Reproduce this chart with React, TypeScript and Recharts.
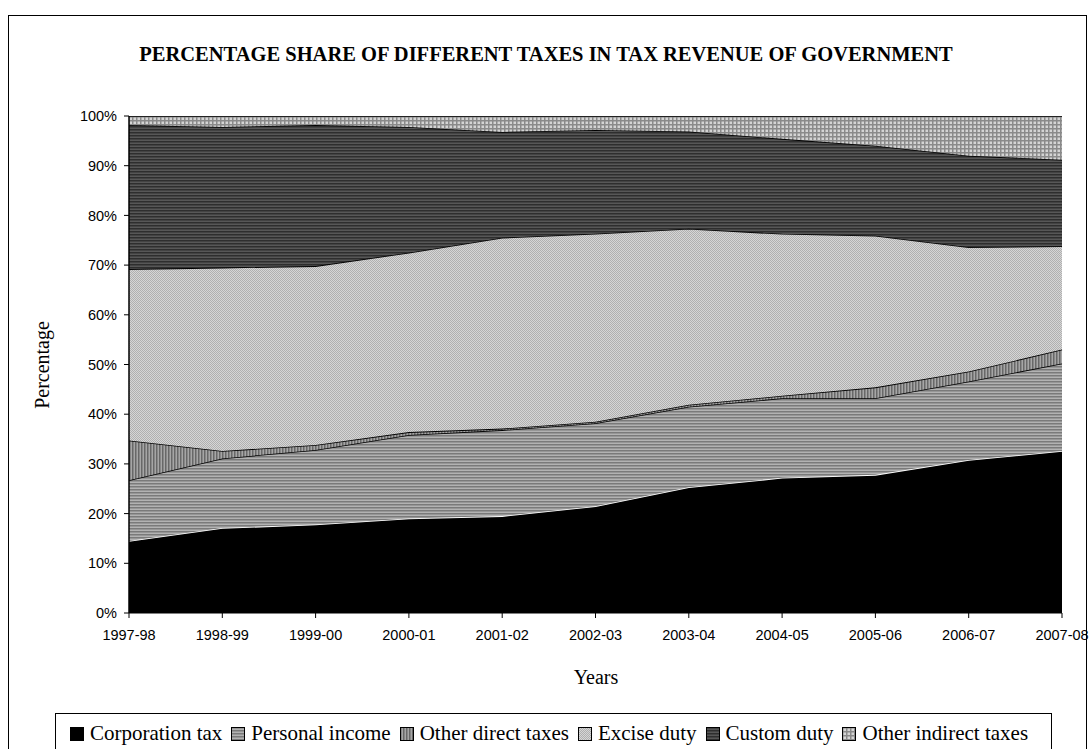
import React from 'react';
import { AreaChart, Area, XAxis, YAxis } from 'recharts';

// tax shares by year, percent of total tax revenue
const years = ['1997-98', '1998-99', '1999-00', '2000-01', '2001-02', '2002-03', '2003-04', '2004-05', '2005-06', '2006-07', '2007-08'];
const corporationTax = [14.5, 17.1, 17.8, 19.0, 19.5, 21.5, 25.3, 27.2, 27.8, 30.8, 32.6];
const personalIncome = [12.2, 14.0, 15.0, 16.8, 17.3, 16.7, 16.2, 16.0, 15.4, 15.8, 17.6];
const otherDirect = [8.0, 1.5, 1.0, 0.6, 0.3, 0.3, 0.4, 0.5, 2.2, 2.0, 2.8];
const exciseDuty = [34.5, 36.9, 36.0, 36.1, 38.4, 37.8, 35.4, 32.6, 30.5, 25.0, 20.8];
const customDuty = [29.0, 28.3, 28.4, 25.3, 21.3, 20.9, 19.6, 19.1, 18.1, 18.4, 17.4];
const otherIndirect = [1.8, 2.2, 1.8, 2.2, 3.2, 2.8, 3.1, 4.6, 6.0, 8.0, 8.8];
const yTicks = [0, 10, 20, 30, 40, 50, 60, 70, 80, 90, 100];

const data = years.map((year, i) => ({
  year,
  corporation: corporationTax[i],
  personal: personalIncome[i],
  otherDirect: otherDirect[i],
  excise: exciseDuty[i],
  custom: customDuty[i],
  otherIndirect: otherIndirect[i],
}));

const series = [
  { key: 'corporation', name: 'Corporation tax', fill: '#000', stroke: '#fff' },
  { key: 'personal', name: 'Personal income', fill: 'url(#patPersonal)', stroke: '#000' },
  { key: 'otherDirect', name: 'Other direct taxes', fill: 'url(#patOtherDirect)', stroke: '#000' },
  { key: 'excise', name: 'Excise duty', fill: 'url(#patExcise)', stroke: '#000' },
  { key: 'custom', name: 'Custom duty', fill: 'url(#patCustom)', stroke: '#000' },
  { key: 'otherIndirect', name: 'Other indirect taxes', fill: 'url(#patOtherIndirect)', stroke: '#000' },
];

const serif = '"Liberation Serif", "Times New Roman", serif';
const sans = '"Liberation Sans", Arial, sans-serif';

const Patterns = () => (
  <defs>
    <pattern id="patPersonal" width="4" height="3" patternUnits="userSpaceOnUse">
      <rect width="4" height="3" fill="#b2b2b2" />
      <rect width="4" height="1.5" fill="#7a7a7a" />
    </pattern>
    <pattern id="patOtherDirect" width="3" height="4" patternUnits="userSpaceOnUse">
      <rect width="3" height="4" fill="#a6a6a6" />
      <rect width="1.5" height="4" fill="#686868" />
    </pattern>
    <pattern id="patExcise" width="2" height="2" patternUnits="userSpaceOnUse">
      <rect width="2" height="2" fill="#d6d6d6" />
      <rect width="1" height="1" fill="#b0b0b0" />
      <rect x="1" y="1" width="1" height="1" fill="#b0b0b0" />
    </pattern>
    <pattern id="patCustom" width="4" height="3" patternUnits="userSpaceOnUse">
      <rect width="4" height="3" fill="#575757" />
      <rect width="4" height="1.5" fill="#2e2e2e" />
    </pattern>
    <pattern id="patOtherIndirect" width="4" height="4" patternUnits="userSpaceOnUse">
      <rect width="4" height="4" fill="#d4d4d4" />
      <rect width="4" height="1.5" fill="#8a8a8a" />
      <rect width="1.5" height="4" fill="#8a8a8a" />
    </pattern>
  </defs>
);

export default function App() {
  return (
    <div style={{ position: 'absolute', left: 0, top: 0, width: 1090, height: 749, overflow: 'hidden', background: '#fff' }}>
      {/* outer frame */}
      <div style={{ position: 'absolute', left: 8, top: 15, width: 1079, height: 780, border: '1px solid #000', boxSizing: 'border-box' }} />

      <div
        style={{
          position: 'absolute', left: 0, width: 1092, top: 43, textAlign: 'center',
          fontFamily: serif, fontWeight: 'bold', fontSize: 20.5,
        }}
      >
        PERCENTAGE SHARE OF DIFFERENT TAXES IN TAX REVENUE OF GOVERNMENT
      </div>

      <AreaChart
        width={1090}
        height={749}
        data={data}
        margin={{ top: 116, right: 28, bottom: 0, left: 0 }}
        style={{ position: 'absolute', left: 0, top: 0 }}
      >
        <Patterns />
        <XAxis
          dataKey="year"
          tick={{ fontFamily: sans, fontSize: 14.5, fill: '#000' }}
          tickLine={{ stroke: '#000' }}
          axisLine={{ stroke: '#000' }}
          tickSize={5}
          tickMargin={12}
          interval={0}
          height={136}
        />
        <YAxis
          domain={[0, 100]}
          ticks={yTicks}
          tickFormatter={(v) => `${v}%`}
          tick={{ fontFamily: sans, fontSize: 14.5, fill: '#000' }}
          tickLine={{ stroke: '#000' }}
          axisLine={{ stroke: '#000', strokeWidth: 1.5 }}
          tickSize={5}
          tickMargin={7}
          width={129}
          allowDataOverflow
        />
        {series.map((s) => (
          <Area
            key={s.key}
            type="linear"
            dataKey={s.key}
            name={s.name}
            stackId="1"
            fill={s.fill}
            fillOpacity={1}
            stroke={s.stroke}
            strokeWidth={1.6}
            isAnimationActive={false}
            dot={false}
            activeDot={false}
          />
        ))}
      </AreaChart>

      <div
        style={{
          position: 'absolute', left: 42, top: 365, transform: 'translate(-50%, -50%) rotate(-90deg)',
          fontFamily: serif, fontSize: 20, whiteSpace: 'nowrap',
        }}
      >
        Percentage
      </div>
      <div style={{ position: 'absolute', left: 496, width: 200, top: 666, textAlign: 'center', fontFamily: serif, fontSize: 20 }}>
        Years
      </div>

      {/* legend box */}
      <div
        style={{
          position: 'absolute', left: 55, top: 713, width: 997, height: 60, border: '1px solid #000',
          boxSizing: 'border-box', fontFamily: serif, fontSize: 21, display: 'flex', alignItems: 'flex-start',
          justifyContent: 'center', paddingTop: 8, whiteSpace: 'nowrap',
        }}
      >
        {series.map((s) => (
          <span key={s.key} style={{ display: 'inline-flex', alignItems: 'center', marginRight: 9, lineHeight: '23px' }}>
            <svg width={14} height={14} style={{ marginRight: 6 }}>
              <rect x={0.5} y={0.5} width={13} height={13} fill={s.fill} stroke="#000" strokeWidth={1} />
            </svg>
            {s.name}
          </span>
        ))}
      </div>
    </div>
  );
}
